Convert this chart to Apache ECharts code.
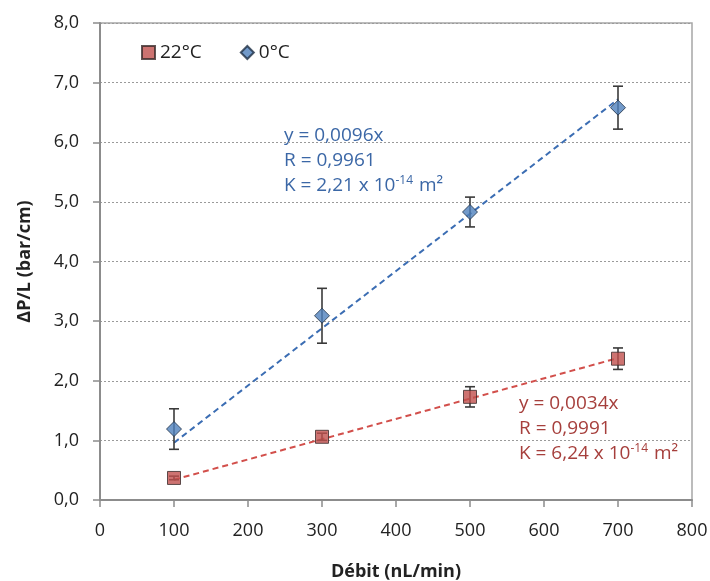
<!DOCTYPE html>
<html>
<head>
<meta charset="utf-8">
<script src="https://cdn.jsdelivr.net/npm/echarts@6/dist/echarts.min.js"></script>
<style>html,body{margin:0;padding:0;background:#fff}#c{width:710px;height:581px}</style>
</head>
<body>
<div id="c"></div>
<script>
// Data
var debit = [100, 300, 500, 700];
var dp22 = [0.37, 1.06, 1.73, 2.37];
var err22 = [0.03, 0.06, 0.17, 0.18];
var dp0 = [1.19, 3.09, 4.83, 6.58];
var err0 = [0.34, 0.46, 0.25, 0.36];
var trendX = [100, 700];
var trend22Y = [0.34, 2.38];
var trend0Y = [0.96, 6.72];
var xTicks = [0, 100, 200, 300, 400, 500, 600, 700, 800];
var yTicks = [0, 1, 2, 3, 4, 5, 6, 7, 8];

var FONT = '"Open Sans", sans-serif';
var chart = echarts.init(document.getElementById('c'));

function pairs(xs, ys) { return xs.map(function (x, i) { return [x, ys[i]]; }); }
function errData(xs, ys, es) { return xs.map(function (x, i) { return [x, ys[i] - es[i], ys[i] + es[i]]; }); }
function errRender(params, api) {
  var lo = api.coord([api.value(0), api.value(1)]);
  var hi = api.coord([api.value(0), api.value(2)]);
  var w = 5;
  var st = { stroke: '#3a3a3a', lineWidth: 1.6 };
  return {
    type: 'group',
    children: [
      { type: 'line', shape: { x1: lo[0], y1: lo[1], x2: hi[0], y2: hi[1] }, style: st },
      { type: 'line', shape: { x1: lo[0] - w, y1: lo[1], x2: lo[0] + w, y2: lo[1] }, style: st },
      { type: 'line', shape: { x1: hi[0] - w, y1: hi[1], x2: hi[0] + w, y2: hi[1] }, style: st }
    ]
  };
}

var blueTxt = '#3b67a6';
var redTxt = '#a63f3c';
var richBase = function (col) {
  return {
    n: { fontSize: 19, fill: col, fontFamily: FONT, lineHeight: 25 },
    s: { fontSize: 12, fill: col, fontFamily: FONT, lineHeight: 25, padding: [0, 1, 10, 0] }
  };
};

chart.setOption({
  animation: false,
  textStyle: { fontFamily: FONT },
  grid: { left: 100, right: 18, top: 23, bottom: 81, containLabel: false, outerBoundsMode: 'none', show: true, borderColor: '#a6a6a6', borderWidth: 1.5 },
  legend: {
    left: 136, top: 38, itemGap: 38, itemWidth: 13, itemHeight: 13,
    textStyle: { fontSize: 19, color: '#222', fontFamily: FONT },
    data: [{ name: '22°C', icon: 'rect' }, { name: '0°C', icon: 'diamond' }]
  },
  xAxis: {
    type: 'value', min: 0, max: 800, interval: 100,
    name: 'Débit (nL/min)', nameLocation: 'middle', nameGap: 63,
    nameTextStyle: { fontSize: 18, fontWeight: 'bold', color: '#222', fontFamily: FONT },
    axisLine: { lineStyle: { color: '#8c8c8c', width: 2 } },
    axisTick: { show: true, length: 7, lineStyle: { color: '#8c8c8c', width: 1.5 } },
    axisLabel: { fontSize: 18, color: '#222', margin: 22, formatter: function (v) { return xTicks.indexOf(v) >= 0 ? String(v) : ''; } },
    splitLine: { show: false }
  },
  yAxis: {
    type: 'value', min: 0, max: 8, interval: 1,
    name: 'ΔP/L (bar/cm)', nameLocation: 'middle', nameGap: 66,
    nameTextStyle: { fontSize: 18, fontWeight: 'bold', color: '#222', fontFamily: FONT },
    axisLine: { show: true, lineStyle: { color: '#8c8c8c', width: 2 } },
    axisTick: { show: true, length: 7, lineStyle: { color: '#8c8c8c', width: 1.5 } },
    axisLabel: { fontSize: 18, color: '#222', margin: 21, formatter: function (v) { return yTicks.indexOf(v) >= 0 ? v.toFixed(1).replace('.', ',') : ''; } },
    splitLine: { show: true, lineStyle: { color: '#9a9a9a', type: [2, 2], width: 1 } }
  },
  series: [
    {
      name: 'trend0', type: 'line', data: pairs(trendX, trend0Y), symbol: 'none', silent: true,
      lineStyle: { color: '#3b6db3', width: 2, type: [6, 4] }, z: 2
    },
    {
      name: 'trend22', type: 'line', data: pairs(trendX, trend22Y), symbol: 'none', silent: true,
      lineStyle: { color: '#d24f4b', width: 2, type: [6, 4] }, z: 2
    },
    { name: 'err0', type: 'custom', renderItem: errRender, data: errData(debit, dp0, err0), z: 3 },
    { name: 'err22', type: 'custom', renderItem: errRender, data: errData(debit, dp22, err22), z: 3 },
    {
      name: '22°C', type: 'scatter', data: pairs(debit, dp22), symbol: 'rect', symbolSize: 13,
      itemStyle: { color: '#c0504d', borderColor: '#3a2a2a', borderWidth: 1 }, z: 4
    },
    {
      name: '0°C', type: 'scatter', data: pairs(debit, dp0), symbol: 'diamond', symbolSize: 15,
      itemStyle: { color: '#4f81bd', borderColor: '#1f2f45', borderWidth: 1 }, z: 4
    }
  ],
  graphic: [
    {
      type: 'text', left: 284, top: 126,
      style: {
        text: '{n|y = 0,0096x}\n{n|R = 0,9961}\n{n|K = 2,21 x 10}{s|-14}{n| m²}',
        rich: richBase(blueTxt)
      }
    },
    {
      type: 'text', left: 519, top: 394,
      style: {
        text: '{n|y = 0,0034x}\n{n|R = 0,9991}\n{n|K = 6,24 x 10}{s|-14}{n| m²}',
        rich: richBase(redTxt)
      }
    }
  ]
});
</script>
</body>
</html>
